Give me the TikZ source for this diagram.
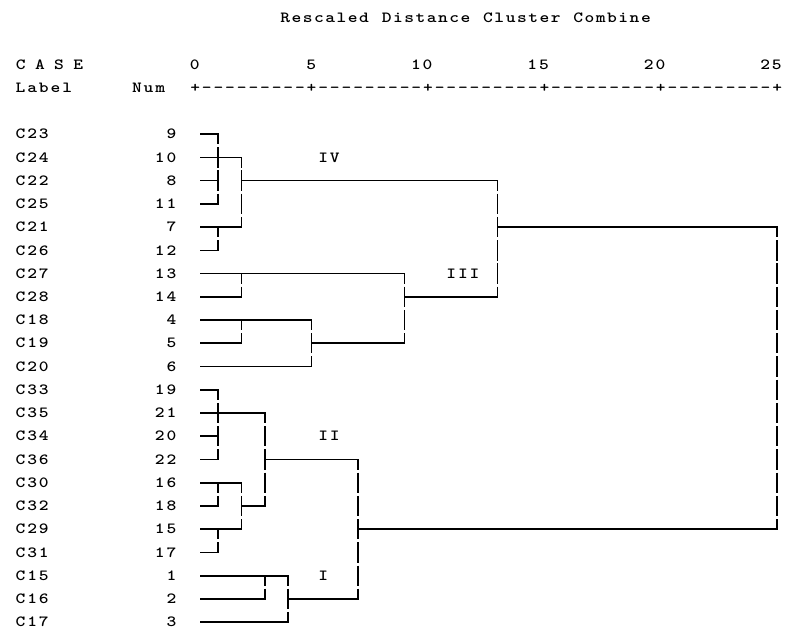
\documentclass[tikz,border=0pt]{standalone}
\usepackage{tikz}
\usepackage{graphicx}

\makeatletter
\newcommand\cells[2][11.64pt]{\@tfor\onechar:=#2\do{\makebox[#1]{\scalebox{1.2}[1]{\onechar}}}}
\makeatother

\tikzset{
  txt/.style={anchor=base west,inner sep=0pt,yshift=-4.7pt,font=\ttfamily\bfseries\fontsize{15.5}{18}\selectfont},
  txtr/.style={txt,anchor=base east},
  hline/.style={line width=1.6pt,line cap=rect},
  vbar/.style={line width=1.6pt,dash pattern=on 20.4pt off 2.84pt,dash phase=10.2pt}
}

\begin{document}
\begin{tikzpicture}[x=11.64pt,y=-23.24pt]
			\useasboundingbox (-16.75,-5.77) rectangle (50.77,21.64);
			% header lines
			\node[txt] (title) at (7.25,-5) {\cells[11.27pt]{Rescaled~Distance~Cluster~Combine}};
			\node[txt] (case) at (-15.4,-3) {\cells[9.6pt]{C~A~S~E}};
			\node[txt] (label) at (-15.5,-2) {\cells{Label}};
			\node[txt] (num) at (-5.5,-2) {\cells{Num}};
			\node[txt] (axis) at (-0.5,-2) {\cells{+---------+---------+---------+---------+---------+}};
			\foreach \v/\k in {0/0,5/10,10/20,15/30,20/40,25/50}
				\node[txtr] (s\v) at (\k+0.5,-3) {\expandafter\cells\expandafter{\v}};
			% cases
			\foreach \lab/\idx [count=\r from 0] in {C23/9,C24/10,C22/8,C25/11,C21/7,C26/12,C27/13,C28/14,C18/4,C19/5,C20/6,C33/19,C35/21,C34/20,C36/22,C30/16,C32/18,C29/15,C31/17,C15/1,C16/2,C17/3}{
				\node[txt] (case\idx) at (-15.5,\r) {\expandafter\cells\expandafter{\lab}};
				\node[txtr] (num\idx) at (-1.5,\r) {\expandafter\cells\expandafter{\idx}};
			}
			% tree: row/from/to
			\foreach \r/\a/\b in {0/0.5/2,1/0.5/4,2/0.5/2,2/4/26,3/0.5/2,4/0.5/4,4/26/50,5/0.5/2,6/0.5/18,7/0.5/4,7/18/26,8/0.5/10,9/0.5/4,9/10/18,10/0.5/10,11/0.5/2,12/0.5/6,13/0.5/2,14/0.5/2,14/6/14,15/0.5/4,16/0.5/2,16/4/6,17/0.5/4,17/14/50,18/0.5/2,19/0.5/8,20/0.5/6,20/8/14,21/0.5/8}
				\draw[hline] (\a,\r) -- (\b,\r);
			% column/top/bottom
			\foreach \k/\a/\b in {2/0/3,2/4/5,4/1/4,4/6/7,4/8/9,10/8/10,18/6/9,26/2/7,50/4/17,2/11/14,6/12/16,2/15/16,2/17/18,4/15/17,6/19/20,8/19/21,14/14/20}
				\draw[vbar] (\k,\a) -- (\k,\b);
			\node[txt] (iv) at (10.5,1) {\cells{IV}};
			\node[txt] (iii) at (21.5,6) {\cells{III}};
			\node[txt] (ii) at (10.5,13) {\cells{II}};
			\node[txt] (i) at (10.5,19) {\cells{I}};
		\end{tikzpicture}
\end{document}
